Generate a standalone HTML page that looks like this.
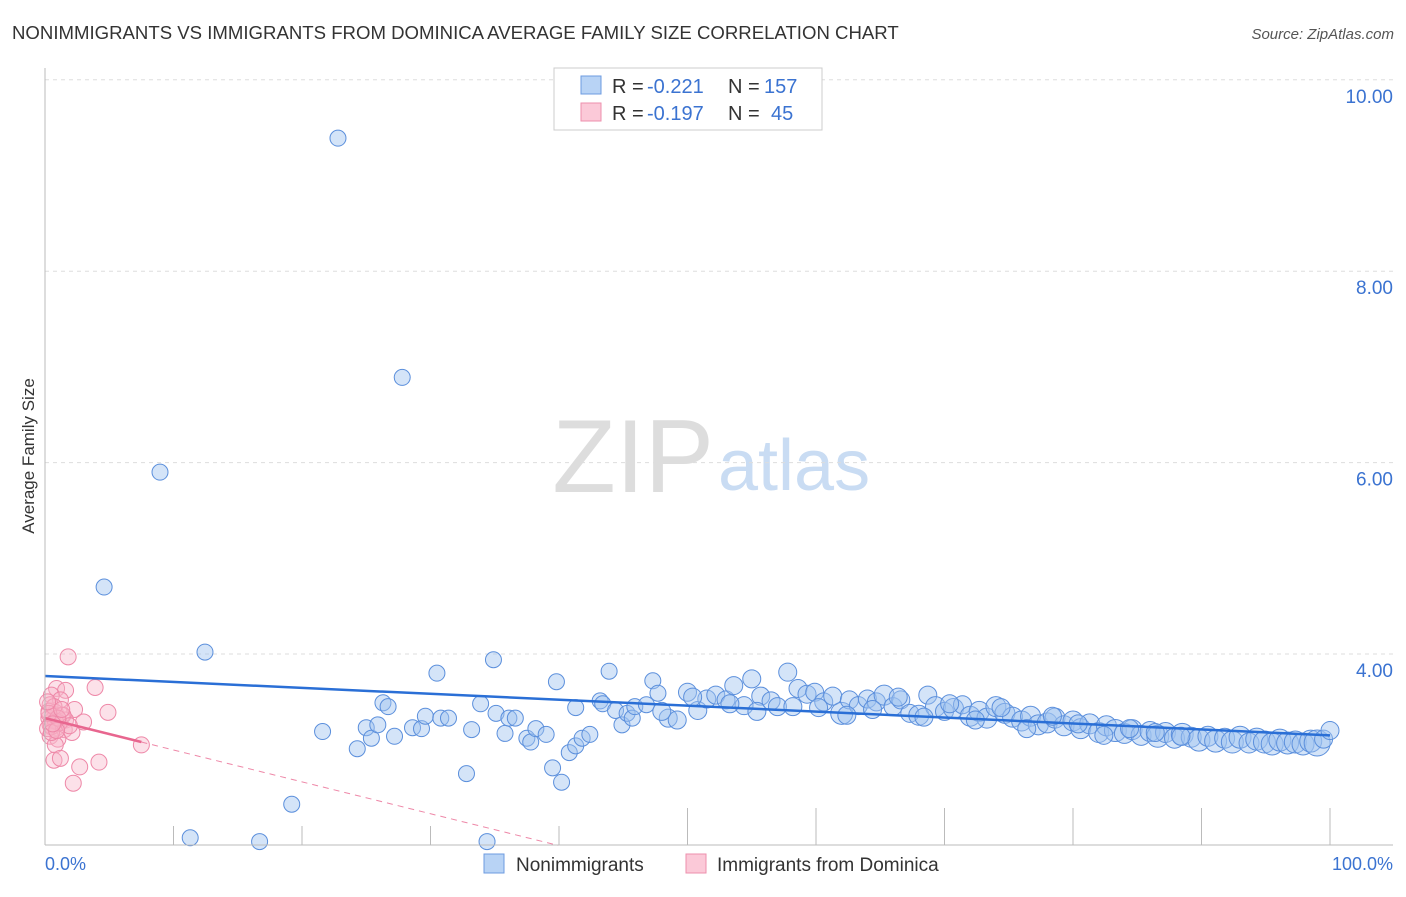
<!DOCTYPE html>
<html><head><meta charset="utf-8"><style>
body{margin:0;background:#fff;font-family:"Liberation Sans",sans-serif;}
svg text{font-family:"Liberation Sans",sans-serif;}
</style></head><body>
<svg id="chart" width="1406" height="892">
<text x="12" y="39" font-size="18.6" fill="#333">NONIMMIGRANTS VS IMMIGRANTS FROM DOMINICA AVERAGE FAMILY SIZE CORRELATION CHART</text>
<text x="1394" y="39" font-size="15" fill="#555" font-style="italic" text-anchor="end">Source: ZipAtlas.com</text>
<text x="714" y="492" font-size="104" fill="#ddd" text-anchor="end" font-family="Liberation Serif">ZIP</text>
<text x="718" y="490" font-size="72" fill="#c9dcf3">atlas</text>
<text x="34" y="456" font-size="17" fill="#333" text-anchor="middle" transform="rotate(-90 34 456)">Average Family Size</text>
<g id="grid"></g><g id="pts"></g><g id="lines"></g>
<line x1="45" y1="68" x2="45" y2="845" stroke="#bbb"/>
<line x1="45" y1="845" x2="1393" y2="845" stroke="#bbb"/>
<text x="45" y="870" font-size="18" fill="#3b73d1">0.0%</text>
<text x="1393" y="870" font-size="18" fill="#3b73d1" text-anchor="end">100.0%</text>
<g>
<rect x="554" y="68" width="268" height="62" fill="#fff" stroke="#ccc"/>
<rect x="581" y="76" width="20" height="18" fill="#b8d3f5" stroke="#6d9be0"/>
<rect x="581" y="103" width="20" height="18" fill="#fbc9d8" stroke="#ee8fad"/>
<text x="612" y="93" font-size="20" fill="#333">R =</text>
<text x="647" y="93" font-size="20" fill="#3b73d1">-0.221</text>
<text x="728" y="93" font-size="20" fill="#333">N =</text>
<text x="764" y="93" font-size="20" fill="#3b73d1">157</text>
<text x="612" y="120" font-size="20" fill="#333">R =</text>
<text x="647" y="120" font-size="20" fill="#3b73d1">-0.197</text>
<text x="728" y="120" font-size="20" fill="#333">N =</text>
<text x="771" y="120" font-size="20" fill="#3b73d1">45</text>
</g>
<g>
<rect x="484" y="854" width="20" height="19" fill="#b8d3f5" stroke="#6d9be0"/>
<text x="516" y="871" font-size="19" fill="#333">Nonimmigrants</text>
<rect x="686" y="854" width="20" height="19" fill="#fbc9d8" stroke="#ee8fad"/>
<text x="717" y="871" font-size="19" fill="#333">Immigrants from Dominica</text>
</g>
</svg>
<script>
const yTicks=[4,6,8,10];
const xTicks=[10,20,30,40,50,60,70,80,90,100];
const blueX=[22.8,27.8,8.95,4.6,12.45,19.2,11.3,16.7,34.4,21.6,24.3,25.0,25.4,25.9,26.3,26.7,27.2,28.6,29.3,29.6,30.5,30.8,31.4,32.8,33.2,33.9,34.9,35.1,35.8,36.1,36.6,37.5,37.8,38.2,39.0,39.5,39.8,40.2,40.8,41.3,41.8,41.3,42.4,43.2,43.4,43.9,44.4,44.9,45.3,45.7,45.9,46.8,47.3,47.7,48.5,49.2,50.0,50.8,51.5,52.2,53.0,53.6,54.4,55.0,55.7,56.5,57.0,57.8,58.6,59.3,59.9,60.6,61.3,62.0,62.6,63.3,64.0,64.7,65.3,66.0,66.6,67.3,68.0,68.7,69.3,70.0,70.7,71.4,72.0,72.7,73.3,74.0,74.7,75.3,76.0,76.7,77.3,78.0,78.6,79.3,80.0,80.6,81.3,82.0,82.6,83.3,84.0,84.6,85.3,86.0,86.6,87.2,87.9,88.5,89.2,89.8,90.5,91.1,91.8,92.4,93.0,93.7,94.3,94.9,95.5,96.1,96.7,97.3,97.9,98.5,99.0,99.5,100.0,48.0,50.4,53.3,55.4,58.2,60.2,62.4,64.4,66.4,68.4,70.4,72.4,74.4,76.4,78.4,80.4,82.4,84.4,86.4,88.4,90.4,92.4,94.4];
const blueY=[9.39,6.89,5.90,4.70,4.02,2.43,2.08,2.04,2.04,3.19,3.01,3.23,3.12,3.26,3.49,3.45,3.14,3.23,3.22,3.35,3.80,3.33,3.33,2.75,3.21,3.48,3.94,3.38,3.17,3.33,3.33,3.12,3.08,3.22,3.16,2.81,3.71,2.66,2.97,3.04,3.12,3.44,3.16,3.51,3.48,3.82,3.41,3.26,3.38,3.33,3.45,3.47,3.72,3.59,3.33,3.31,3.60,3.41,3.53,3.57,3.52,3.67,3.46,3.74,3.56,3.51,3.45,3.81,3.64,3.58,3.60,3.50,3.56,3.38,3.52,3.46,3.53,3.50,3.57,3.45,3.52,3.38,3.36,3.57,3.45,3.40,3.43,3.47,3.35,3.40,3.33,3.45,3.38,3.34,3.30,3.35,3.26,3.28,3.33,3.25,3.30,3.22,3.27,3.18,3.25,3.20,3.17,3.21,3.15,3.19,3.14,3.18,3.12,3.16,3.13,3.10,3.14,3.09,3.12,3.08,3.13,3.07,3.11,3.08,3.06,3.10,3.07,3.08,3.06,3.09,3.07,3.11,3.20,3.40,3.55,3.48,3.40,3.45,3.44,3.36,3.42,3.55,3.34,3.48,3.31,3.44,3.22,3.35,3.27,3.15,3.22,3.18,3.14,3.11,3.09,3.07];
const blueR=[8,8,8,8,8,8,8,8,8,8,8,8,8,8,8,8,8,8,8,8,8,8,8,8,8,8,8,8,8,8,8,8,8,8,8,8,8,8,8,8,8,8,8,8,8,8,8,8,8,8,8,8,8,8,9,9,9,9,9,9,9,9,9,9,9,9,9,9,9,9,9,9,9,11,9,9,9,9,10,9,9,9,10,9,10,9,10,9,10,10,10,10,10,10,10,10,10,10,10,10,10,10,10,10,10,11,10,10,10,10,11,10,10,11,10,11,10,11,10,11,11,10,11,11,11,11,11,11,11,11,13,9,9,9,9,9,9,9,9,9,9,9,9,9,9,9,9,9,9,9,9,9,9];
const pinkX=[1.8,0.9,1.6,3.9,0.5,1.2,0.4,2.3,4.9,0.8,1.3,0.3,0.6,1.0,1.6,0.4,0.9,1.5,3.0,2.1,0.4,1.0,0.8,7.5,0.7,1.2,2.7,4.2,2.2,0.3,0.6,1.1,0.5,0.8,1.4,0.2,0.7,1.9,0.5,1.0,0.3,0.9,1.3,0.6,0.2];
const pinkY=[3.97,3.64,3.62,3.65,3.57,3.52,3.47,3.42,3.39,3.39,3.36,3.33,3.31,3.29,3.31,3.26,3.23,3.21,3.29,3.18,3.14,3.11,3.05,3.05,2.89,2.91,2.82,2.87,2.65,3.40,3.35,3.28,3.24,3.30,3.36,3.22,3.45,3.25,3.18,3.33,3.38,3.20,3.42,3.27,3.50];
const blueTrend=[3.77,3.15];
const pinkTrend=[3.33,-0.0333];
const pinkSolidEnd=7.5;
const X=v=>45+v*12.85, Y=v=>654-(v-4)*95.7;
const NS="http://www.w3.org/2000/svg";
function mk(t,a,p){const e=document.createElementNS(NS,t);for(const k in a)e.setAttribute(k,a[k]);p.appendChild(e);return e;}
const grid=document.getElementById('grid'),pts=document.getElementById('pts'),lines=document.getElementById('lines');
yTicks.forEach(v=>{
 const l=mk('line',{x1:45,x2:1393,y1:Y(v),y2:Y(v),stroke:'#ddd','stroke-dasharray':'4,4'},grid);
 
 
 const t=mk('text',{x:1393,y:Y(v)+23,'font-size':19,fill:'#3b73d1','text-anchor':'end'},grid);
 t.textContent=v.toFixed(2);
 
 
});
xTicks.forEach((v,i)=>{
 const l=mk('line',{x1:X(v),x2:X(v),y1:i<4?826:808,y2:845,stroke:'#bbb'},grid);
 
 
});
blueX.forEach((x,i)=>{
 const c=mk('circle',{cx:X(x),cy:Y(blueY[i]),r:blueR[i],fill:'rgba(160,195,240,0.45)',stroke:'#5b8fdc','stroke-width':1},pts);
 
 
});
pinkX.forEach((x,i)=>{
 const c=mk('circle',{cx:X(x),cy:Y(pinkY[i]),r:8,fill:'rgba(248,180,200,0.4)',stroke:'#ee88a8','stroke-width':1},pts);
 
 
});
const bl=mk('line',{x1:X(0),y1:Y(blueTrend[0]),x2:X(100),y2:Y(blueTrend[1]),stroke:'#2a6fd6','stroke-width':2.5},lines);


const pf=x=>pinkTrend[0]+pinkTrend[1]*x;
const xEnd=(2-pinkTrend[0])/pinkTrend[1];
const pd=mk('line',{x1:X(pinkSolidEnd),y1:Y(pf(pinkSolidEnd)),x2:X(xEnd),y2:Y(2),stroke:'#ee88a8','stroke-width':1,'stroke-dasharray':'6,5'},lines);


const ps=mk('line',{x1:X(0),y1:Y(pf(0)),x2:X(pinkSolidEnd),y2:Y(pf(pinkSolidEnd)),stroke:'#e8668f','stroke-width':2.5},lines);


</script>
</body></html>
